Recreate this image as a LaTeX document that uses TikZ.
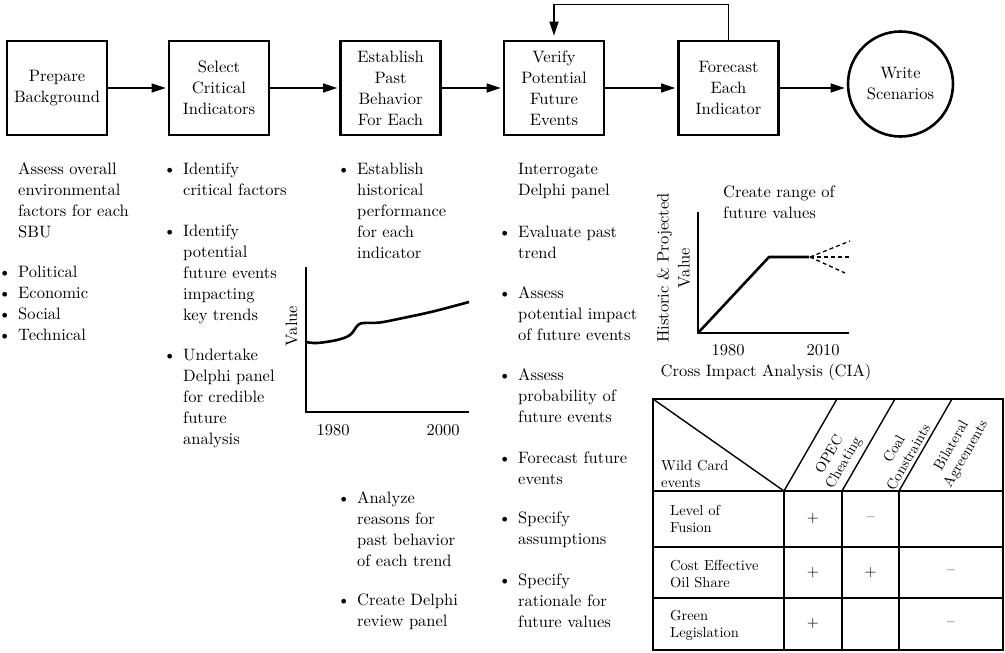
\documentclass[tikz,border=0pt]{standalone}
\usepackage{fontspec}
% fixed 10pt design size of Latin Modern, scaled to the sizes used below
\setmainfont{lmroman10-regular.otf}
\usetikzlibrary{arrows.meta}
\newcommand\bul{\llap{\textbullet\hspace{7pt}}}
\begin{document}
\begin{tikzpicture}[x=1pt,y=-1pt,
  body/.style={font=\fontsize{16.5}{21}\selectfont, inner sep=0pt, align=left, anchor=north west},
  lbl/.style={font=\fontsize{16.5}{21}\selectfont, inner sep=0pt},
  small/.style={font=\fontsize{14.5}{17.5}\selectfont, inner sep=0pt, align=left, anchor=north west},
  hdr/.style={font=\fontsize{14.5}{16.5}\selectfont, inner sep=0pt, align=center, rotate=60},
  sign/.style={font=\fontsize{15.5}{17.5}\selectfont, inner sep=0pt},
  stepbox/.style={draw, line width=2.6pt, minimum width=100pt, minimum height=94pt,
    align=center, inner sep=0pt, font=\fontsize{16.5}{21}\selectfont},
  endbox/.style={draw, circle, line width=2.6pt, minimum size=105pt,
    align=center, inner sep=0pt, font=\fontsize{16.5}{21}\selectfont},
  flow/.style={line width=1.3pt, -{Triangle[length=14pt,width=9pt]}, shorten >=2pt},
  axis/.style={line width=1.6pt},
  curve/.style={line width=2.6pt},
  grid/.style={line width=1.8pt},
]
\useasboundingbox (0,0) rectangle (1005,653);

% process steps
\node[stepbox] (b1) at (57,88)    {Prepare\\Background};
\node[stepbox] (b2) at (219,88)   {Select\\Critical\\Indicators};
\node[stepbox] (b3) at (390.5,88) {Establish\\Past\\Behavior\\For Each};
\node[stepbox] (b4) at (554,88)   {Verify\\Potential\\Future\\Events};
\node[stepbox] (b5) at (728.5,88) {Forecast\\Each\\Indicator};
\node[endbox]  (ws) at (900.5,84) {Write\\Scenarios};

\draw[flow] (b1.east) -- (b2.west);
\draw[flow] (b2.east) -- (b3.west);
\draw[flow] (b3.east) -- (b4.west);
\draw[flow] (b4.east) -- (b5.west);
\draw[flow] (b5.east) -- (b5.east -| ws.west);
\draw[flow, shorten >=4pt] (b5.north) -- ++(0,-35) -| (b4.north);

% column 1
\node[body] (t1a) at (18,159.3) {\strut Assess overall\\environmental\\factors for each\\SBU};
\node[body] (t1b) at (18,262.3) {\strut\bul Political\\\bul Economic\\\bul Social\\\bul Technical};

% column 2
\node[body] (t2a) at (183,159.3) {\strut\bul Identify\\critical factors};
\node[body] (t2b) at (183,221.3) {\strut\bul Identify\\potential\\future events\\impacting\\key trends};
\node[body] (t2c) at (183,345.3) {\strut\bul Undertake\\Delphi panel\\for credible\\future\\analysis};

% column 3
\node[body] (t3a) at (357,159.3) {\strut\bul Establish\\historical\\performance\\for each\\indicator};
\node[body] (t3b) at (357,488.3) {\strut\bul Analyze\\reasons for\\past behavior\\of each trend};
\node[body] (t3c) at (357,590.3) {\strut\bul Create Delphi\\review panel};

% historical trend chart
\draw[axis] (306,267) -- (306,412) -- (469,412);
\draw[curve, line join=round] plot[smooth, tension=0.55] coordinates
  {(306,342) (317,343) (337,340) (350,335) (358,325) (364,323) (380,322.5) (403,318) (433,311.5) (469,302)};
\node[lbl, rotate=90] (v1) at (291.5,326) {Value};
\node[lbl, anchor=base] (y1) at (333,435) {1980};
\node[lbl, anchor=base] (y2) at (443,435) {2000};

% column 4
\node[body] (t4a) at (518,159.3) {\strut Interrogate\\Delphi panel};
\node[body] (t4b) at (518,222.3) {\strut\bul Evaluate past\\trend};
\node[body] (t4c) at (518,283.3) {\strut\bul Assess\\potential impact\\of future events};
\node[body] (t4d) at (518,365.3) {\strut\bul Assess\\probability of\\future events};
\node[body] (t4e) at (518,448.3) {\strut\bul Forecast future\\events};
\node[body] (t4f) at (518,508.3) {\strut\bul Specify\\assumptions};
\node[body] (t4g) at (518,570.3) {\strut\bul Specify\\rationale for\\future values};

% projection chart
\node[body] (t5a) at (723,182.3) {\strut Create range of\\future values};
\draw[axis] (698,212) -- (698,333) -- (849,333);
\draw[curve, line join=round] (698,333) -- (769,257) -- (809,257);
\draw[line width=1.3pt, dash pattern=on 4pt off 3pt] (810,257) -- (850,241);
\draw[line width=1.3pt, dash pattern=on 4pt off 3pt] (810,257) -- (849,257);
\draw[line width=1.3pt, dash pattern=on 4pt off 3pt] (810,257) -- (845,273);
\node[lbl, rotate=90, align=center] (v2) at (673.5,268) {Historic \& Projected\\Value};
\node[lbl, anchor=base] (y3) at (728,355) {1980};
\node[lbl, anchor=base] (y4) at (823,355) {2010};
\node[lbl, anchor=base] (cia) at (766,376) {Cross Impact Analysis (CIA)};

% cross impact table
\draw[grid] (653,491) -- (1003,491);
\draw[grid] (653,547) -- (1003,547);
\draw[grid] (653,598) -- (1003,598);
\draw[grid] (784,491) -- (784,650);
\draw[grid] (842,491) -- (842,650);
\draw[grid] (899,491) -- (899,650);
\draw[line width=1.4pt] (653,399) -- (784,491);
\draw[line width=1.4pt] (784,491) -- (837,399);
\draw[line width=1.4pt] (842,491) -- (895,399);
\draw[line width=1.4pt] (899,491) -- (952,399);
\draw[line width=2.6pt] (653,399) rectangle (1003,650);

\node[small] (wc) at (661,457.75) {\strut Wild Card\\events};
\node[hdr] (h1) at (837,459) {OPEC\\Cheating};
\node[hdr] (h2) at (901,453) {Coal\\Constraints};
\node[hdr] (h3) at (959,450) {Bilateral\\Agreements};

\node[small] (r1) at (670,502.75) {\strut Level of\\Fusion};
\node[small] (r2) at (670,557.75) {\strut Cost Effective\\Oil Share};
\node[small] (r3) at (670,607.75) {\strut Green\\Legislation};

\node[sign] (s11) at (813,519)   {+};
\node[sign] (s12) at (870.5,519) {\textendash};
\node[sign] (s21) at (813,572.5) {+};
\node[sign] (s22) at (870.5,572.5) {+};
\node[sign] (s23) at (951,572.5) {\textendash};
\node[sign] (s31) at (813,624)   {+};
\node[sign] (s33) at (951,624)   {\textendash};
\end{tikzpicture}
\end{document}
